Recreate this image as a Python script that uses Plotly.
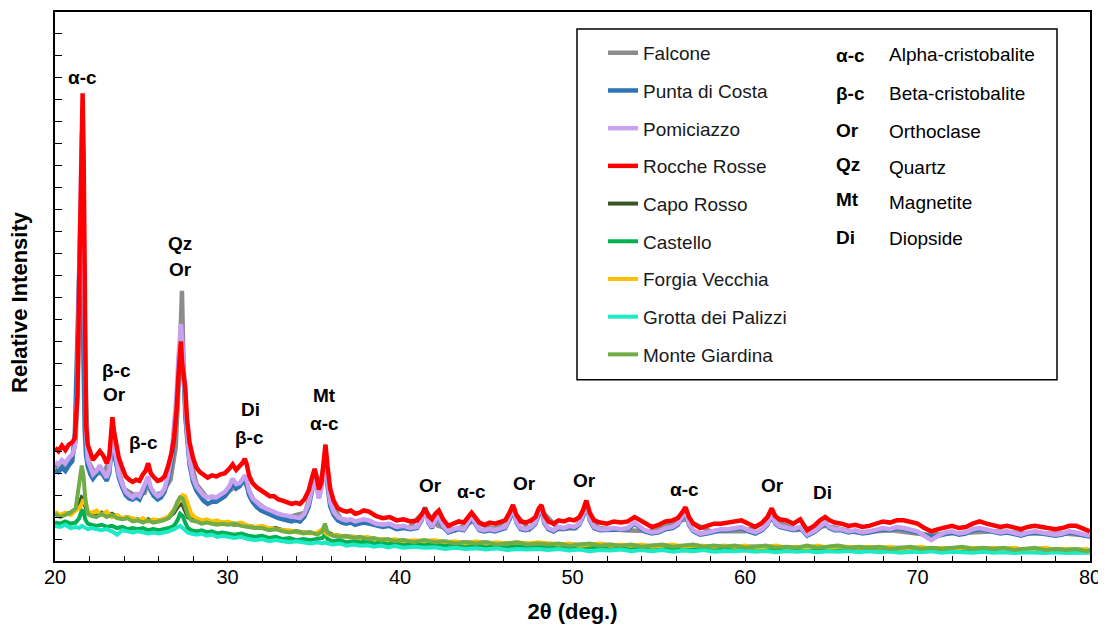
import plotly.graph_objects as go

# ---------------- data ----------------
# 2theta grid shared by the four upper patterns
tt_main = [
    20.0, 20.2, 20.4, 20.6, 20.8, 21.0, 21.15, 21.3, 21.4, 21.48,
    21.55, 21.6, 21.66, 21.72, 21.8, 21.9, 22.05, 22.2, 22.4, 22.6,
    22.8, 23.0, 23.15, 23.25, 23.33, 23.42, 23.55, 23.7, 23.9, 24.1,
    24.3, 24.5, 24.7, 24.9, 25.1, 25.25, 25.4, 25.55, 25.75, 25.95,
    26.15, 26.35, 26.55, 26.75, 26.9, 27.05, 27.15, 27.23, 27.3, 27.37,
    27.45, 27.55, 27.65, 27.8, 28.0, 28.2, 28.4, 28.6, 28.85, 29.1,
    29.35, 29.6, 29.85, 30.1, 30.3, 30.5, 30.7, 30.85, 31.0, 31.1,
    31.25, 31.45, 31.7, 31.95, 32.2, 32.45, 32.7, 32.95, 33.2, 33.45,
    33.7, 33.95, 34.2, 34.45, 34.7, 34.9, 35.05, 35.15, 35.3, 35.45,
    35.58, 35.68, 35.8, 35.95, 36.15, 36.4, 36.65, 36.9, 37.15, 37.4,
    37.65, 37.9, 38.2, 38.6, 39.0, 39.4, 39.8, 40.2, 40.6, 41.0,
    41.25, 41.45, 41.65, 41.85, 42.05, 42.25, 42.5, 42.8, 43.1, 43.4,
    43.7, 43.95, 44.15, 44.35, 44.6, 44.9, 45.2, 45.5, 45.8, 46.1,
    46.35, 46.55, 46.75, 47.0, 47.3, 47.6, 47.85, 48.05, 48.2, 48.35,
    48.6, 48.9, 49.2, 49.5, 49.8, 50.1, 50.4, 50.6, 50.8, 51.0,
    51.25, 51.6, 52.0, 52.4, 52.8, 53.2, 53.6, 53.9, 54.2, 54.6,
    55.0, 55.4, 55.8, 56.1, 56.35, 56.55, 56.75, 57.0, 57.4, 57.8,
    58.2, 58.6, 59.0, 59.4, 59.8, 60.2, 60.6, 61.0, 61.3, 61.55,
    61.75, 62.0, 62.4, 62.8, 63.2, 63.6, 64.0, 64.35, 64.65, 64.9,
    65.2, 65.6, 66.0, 66.4, 66.8, 67.2, 67.6, 68.0, 68.4, 68.8,
    69.2, 69.6, 70.0, 70.4, 70.8, 71.2, 71.6, 72.0, 72.4, 72.8,
    73.2, 73.6, 74.0, 74.4, 74.8, 75.2, 75.6, 76.0, 76.4, 76.8,
    77.2, 77.6, 78.0, 78.4, 78.8, 79.2, 79.6, 80.0,
]

rocche_rosse = [
    5.15, 5.0, 5.25, 5.05, 5.3, 5.4, 5.6, 7.5, 12.5, 17.5,
    21.2, 21.3, 18.5, 12.5, 6.2, 5.3, 4.85, 4.6, 4.8, 5.0,
    4.8, 4.45, 4.8, 5.7, 6.55, 5.9, 5.2, 4.7, 4.25, 3.85,
    3.7, 3.6, 3.7, 3.65, 3.95, 4.1, 4.45, 4.0, 3.8, 3.65,
    3.7, 3.85, 4.3, 4.9, 5.6, 6.9, 8.4, 9.7, 10.0, 9.0,
    8.4, 7.9, 6.5, 5.4, 4.7, 4.25, 4.05, 3.95, 3.8, 3.9,
    3.85, 3.95, 4.0, 4.2, 4.4, 4.15, 4.3, 4.45, 4.65, 4.45,
    3.9, 3.55, 3.35, 3.2, 3.1, 2.95, 2.95, 2.8, 2.75, 2.7,
    2.6, 2.65, 2.6, 2.8, 3.2, 3.8, 4.2, 3.9, 3.25, 3.6,
    4.6, 5.3, 4.3, 3.3, 2.75, 2.4, 2.3, 2.25, 2.3, 2.15,
    2.2, 2.3, 2.25, 2.05, 1.95, 2.0, 1.85, 1.9, 1.8, 1.85,
    2.1, 2.4, 2.05, 1.9, 2.15, 2.3, 1.9, 1.6, 1.7, 1.8,
    1.75, 2.0, 2.2, 2.0, 1.75, 1.65, 1.75, 1.7, 1.75, 1.85,
    2.2, 2.55, 2.1, 1.8, 1.75, 1.85, 2.0, 2.4, 2.55, 2.1,
    1.8, 1.7, 1.85, 1.8, 1.9, 1.85, 2.0, 2.3, 2.75, 2.2,
    1.85, 1.75, 1.7, 1.8, 1.75, 1.8, 2.0, 1.85, 1.7, 1.55,
    1.65, 1.8, 1.85, 1.95, 2.2, 2.45, 2.0, 1.7, 1.5, 1.6,
    1.7, 1.7, 1.75, 1.8, 1.85, 1.7, 1.55, 1.75, 2.0, 2.4,
    2.05, 1.9, 1.85, 1.7, 1.9, 1.4, 1.6, 1.85, 2.0, 1.85,
    1.75, 1.7, 1.6, 1.65, 1.55, 1.6, 1.7, 1.8, 1.75, 1.85,
    1.85, 1.8, 1.7, 1.5, 1.35, 1.45, 1.55, 1.6, 1.5, 1.55,
    1.7, 1.8, 1.7, 1.6, 1.55, 1.6, 1.5, 1.45, 1.55, 1.6,
    1.55, 1.5, 1.45, 1.5, 1.6, 1.6, 1.45, 1.35,
]

pomiciazzo = [
    4.5, 4.4, 4.6, 4.45, 4.7, 4.85, 5.2, 7.8, 13.0, 17.0,
    19.5, 19.0, 16.0, 11.0, 6.0, 4.6, 4.2, 3.95, 4.1, 4.35,
    4.05, 3.8, 4.2, 5.2, 6.0, 5.3, 4.5, 3.95, 3.5, 3.15,
    3.0, 2.9, 3.05, 2.95, 3.3, 3.55, 3.85, 3.35, 3.1, 2.95,
    3.05, 3.3, 3.9, 4.8, 6.0, 7.6, 9.2, 10.4, 10.8, 10.0,
    8.6, 7.6, 6.0, 4.6, 3.8, 3.4, 3.2, 3.0, 2.9, 2.95,
    2.9, 3.05, 3.15, 3.4, 3.75, 3.5, 3.55, 3.7, 3.9, 3.75,
    3.2, 2.85, 2.65, 2.5, 2.4, 2.3, 2.25, 2.15, 2.1, 2.05,
    2.0, 2.0, 1.95, 2.15, 2.6, 3.3, 3.7, 3.4, 2.85, 3.3,
    4.2, 4.6, 3.6, 2.7, 2.25, 2.0, 1.9, 1.85, 1.9, 1.8,
    1.85, 1.9, 1.85, 1.7, 1.65, 1.7, 1.55, 1.6, 1.5, 1.55,
    1.9, 2.35, 1.8, 1.55, 1.85, 2.05, 1.6, 1.35, 1.45, 1.5,
    1.45, 1.8, 2.05, 1.75, 1.45, 1.4, 1.45, 1.4, 1.45, 1.55,
    2.0, 2.45, 1.8, 1.5, 1.45, 1.55, 1.75, 2.3, 2.5, 1.8,
    1.5, 1.4, 1.55, 1.5, 1.6, 1.55, 1.7, 2.1, 2.65, 1.9,
    1.55, 1.45, 1.45, 1.5, 1.45, 1.5, 1.75, 1.55, 1.4, 1.3,
    1.35, 1.5, 1.55, 1.7, 2.0, 2.35, 1.7, 1.4, 1.25, 1.3,
    1.4, 1.45, 1.45, 1.5, 1.55, 1.4, 1.3, 1.45, 1.7, 2.15,
    1.75, 1.6, 1.55, 1.45, 1.55, 1.2, 1.35, 1.55, 1.75, 1.55,
    1.45, 1.45, 1.35, 1.4, 1.3, 1.35, 1.45, 1.5, 1.45, 1.55,
    1.5, 1.45, 1.35, 1.15, 0.95, 1.15, 1.3, 1.35, 1.25, 1.3,
    1.45, 1.5, 1.45, 1.35, 1.3, 1.35, 1.25, 1.2, 1.3, 1.35,
    1.3, 1.25, 1.2, 1.25, 1.35, 1.3, 1.2, 1.15,
]

punta_di_costa = [
    4.15, 4.05, 4.25, 4.1, 4.35, 4.55, 5.8, 10.5, 14.5, 15.5,
    14.0, 11.0, 8.5, 6.0, 4.8, 4.3, 3.95, 3.75, 3.95, 4.2,
    3.9, 3.65, 4.0, 4.9, 5.6, 5.0, 4.3, 3.8, 3.35, 3.0,
    2.85, 2.8, 2.9, 2.8, 3.15, 3.4, 3.7, 3.2, 2.95, 2.8,
    2.9, 3.15, 3.7, 4.5, 5.6, 7.2, 8.8, 10.0, 10.4, 9.5,
    8.2, 7.2, 5.7, 4.4, 3.6, 3.2, 3.0, 2.75, 2.6, 2.7,
    2.7, 2.85, 2.95, 3.2, 3.6, 3.3, 3.4, 3.6, 3.85, 3.5,
    3.0, 2.7, 2.45, 2.3, 2.2, 2.1, 2.05, 1.95, 1.9, 1.85,
    1.8, 1.85, 1.8, 2.0, 2.45, 3.2, 3.9, 3.6, 2.9, 3.5,
    4.4, 4.7, 3.4, 2.5, 2.1, 1.85, 1.75, 1.7, 1.75, 1.65,
    1.7, 1.75, 1.7, 1.6, 1.55, 1.6, 1.45, 1.5, 1.45, 1.5,
    1.85, 2.45, 1.75, 1.5, 1.8, 1.95, 1.55, 1.3, 1.4, 1.45,
    1.4, 1.75, 1.95, 1.7, 1.4, 1.35, 1.4, 1.35, 1.4, 1.5,
    1.9, 2.35, 1.75, 1.45, 1.4, 1.5, 1.7, 2.2, 2.45, 1.75,
    1.45, 1.35, 1.5, 1.45, 1.55, 1.5, 1.65, 2.0, 2.6, 1.85,
    1.5, 1.4, 1.4, 1.45, 1.4, 1.45, 1.7, 1.5, 1.35, 1.25,
    1.3, 1.45, 1.5, 1.65, 1.95, 2.3, 1.65, 1.35, 1.2, 1.25,
    1.35, 1.4, 1.4, 1.45, 1.5, 1.35, 1.25, 1.4, 1.65, 2.1,
    1.7, 1.55, 1.5, 1.4, 1.5, 1.15, 1.3, 1.5, 1.7, 1.5,
    1.4, 1.4, 1.3, 1.35, 1.25, 1.3, 1.4, 1.45, 1.4, 1.5,
    1.45, 1.4, 1.3, 1.2, 1.1, 1.15, 1.25, 1.3, 1.2, 1.25,
    1.4, 1.45, 1.4, 1.3, 1.25, 1.3, 1.2, 1.15, 1.25, 1.3,
    1.25, 1.2, 1.15, 1.2, 1.3, 1.25, 1.15, 1.1,
]

# Falcone is mostly hidden under the other upper patterns: coarser grid
tt_falcone = [
    20.0, 20.5, 21.0, 21.2, 21.35, 21.45, 21.55, 21.65, 21.75, 21.9,
    22.3, 22.8, 23.2, 23.33, 23.5, 24.0, 24.6, 25.2, 25.4, 25.7,
    26.2, 26.7, 27.0, 27.2, 27.3, 27.36, 27.42, 27.55, 27.8, 28.2,
    28.8, 29.5, 30.3, 31.0, 31.5, 32.5, 33.5, 34.5, 35.05, 35.3,
    35.55, 35.7, 36.0, 36.6, 37.5, 38.5, 39.5, 40.5, 41.45, 42.2,
    43.2, 44.2, 45.5, 46.6, 47.5, 48.2, 49.2, 50.2, 50.8, 51.5,
    53.0, 54.5, 56.5, 58.0, 60.0, 61.6, 63.0, 64.7, 66.5, 68.5,
    70.5, 72.5, 74.5, 76.5, 78.5, 80.0,
]
falcone = [
    4.3, 4.35, 4.7, 5.5, 9.0, 14.0, 17.0, 15.5, 9.0, 4.6,
    4.0, 4.0, 4.6, 5.8, 4.6, 3.3, 3.0, 3.1, 3.6, 3.0,
    3.1, 3.7, 5.2, 8.5, 11.5, 12.3, 10.0, 6.5, 4.8, 3.5,
    2.9, 2.9, 3.3, 3.6, 2.8, 2.2, 2.0, 2.2, 3.7, 3.2,
    4.2, 4.4, 2.6, 1.9, 1.8, 1.7, 1.55, 1.5, 2.3, 1.6,
    1.4, 1.8, 1.45, 2.2, 1.45, 2.3, 1.45, 1.5, 2.4, 1.5,
    1.4, 1.35, 1.9, 1.35, 1.35, 1.9, 1.4, 1.6, 1.3, 1.4,
    1.2, 1.3, 1.35, 1.25, 1.25, 1.15,
]

# 2theta grid shared by the five lower patterns
tt_low = [
    20.0, 20.3, 20.6, 20.9, 21.2, 21.4, 21.55, 21.65, 21.75, 21.9,
    22.1, 22.4, 22.7, 23.0, 23.3, 23.6, 23.9, 24.2, 24.5, 24.8,
    25.1, 25.4, 25.7, 26.0, 26.3, 26.6, 26.9, 27.1, 27.25, 27.4,
    27.55, 27.7, 27.9, 28.2, 28.5, 28.8, 29.1, 29.4, 29.7, 30.0,
    30.4, 30.8, 31.2, 31.6, 32.0, 32.4, 32.8, 33.2, 33.6, 34.0,
    34.4, 34.8, 35.2, 35.5, 35.65, 35.8, 36.1, 36.5, 36.9, 37.3,
    37.7, 38.1, 38.5, 38.9, 39.3, 39.7, 40.2, 40.8, 41.4, 42.0,
    42.6, 43.2, 43.8, 44.4, 45.0, 45.6, 46.2, 46.8, 47.4, 48.0,
    48.6, 49.2, 49.8, 50.4, 51.0, 51.6, 52.2, 52.8, 53.4, 54.0,
    54.6, 55.2, 55.8, 56.4, 57.0, 57.6, 58.2, 58.8, 59.4, 60.0,
    60.6, 61.2, 61.8, 62.4, 63.0, 63.6, 64.2, 64.8, 65.4, 66.0,
    66.6, 67.2, 67.8, 68.4, 69.0, 69.6, 70.2, 70.8, 71.4, 72.0,
    72.6, 73.2, 73.8, 74.4, 75.0, 75.6, 76.2, 76.8, 77.4, 78.0,
    78.6, 79.2, 79.8, 80.0,
]

capo_rosso = [
    2.2, 2.05, 2.15, 2.2, 2.35, 2.6, 2.9, 2.85, 2.5, 2.2,
    2.1, 2.05, 2.2, 2.05, 2.15, 2.0, 1.95, 2.0, 1.85, 1.9,
    1.8, 1.9, 1.8, 1.85, 1.9, 2.0, 2.2, 2.45, 2.6, 2.55,
    2.3, 2.0, 1.9, 1.85, 1.75, 1.8, 1.75, 1.7, 1.75, 1.7,
    1.65, 1.7, 1.6, 1.55, 1.55, 1.45, 1.5, 1.4, 1.35, 1.35,
    1.3, 1.3, 1.25, 1.35, 1.4, 1.3, 1.2, 1.15, 1.1, 1.1,
    1.05, 1.05, 1.0, 1.0, 0.95, 0.95, 0.92, 0.9, 0.92, 0.88,
    0.88, 0.85, 0.85, 0.82, 0.84, 0.8, 0.82, 0.8, 0.78, 0.82,
    0.78, 0.76, 0.78, 0.74, 0.76, 0.74, 0.72, 0.74, 0.72, 0.7,
    0.7, 0.72, 0.68, 0.7, 0.7, 0.68, 0.68, 0.66, 0.68, 0.65,
    0.64, 0.66, 0.64, 0.62, 0.64, 0.64, 0.62, 0.63, 0.66, 0.62,
    0.62, 0.6, 0.62, 0.6, 0.58, 0.62, 0.6, 0.58, 0.58, 0.58,
    0.6, 0.58, 0.57, 0.58, 0.56, 0.56, 0.54, 0.56, 0.55, 0.54,
    0.53, 0.52, 0.5, 0.5,
]

castello = [
    1.75, 1.7, 1.8, 1.7, 1.75, 1.95, 2.3, 2.25, 1.9, 1.7,
    1.65, 1.6, 1.65, 1.55, 1.6, 1.5, 1.55, 1.45, 1.5, 1.45,
    1.5, 1.4, 1.45, 1.4, 1.45, 1.5, 1.6, 1.85, 2.15, 2.05,
    1.75, 1.5, 1.4, 1.35, 1.4, 1.3, 1.35, 1.25, 1.3, 1.25,
    1.2, 1.25, 1.15, 1.1, 1.15, 1.05, 1.1, 1.0, 1.05, 0.95,
    1.0, 0.95, 1.0, 1.05, 1.2, 1.0, 0.9, 0.95, 0.85, 0.9,
    0.85, 0.88, 0.8, 0.85, 0.78, 0.82, 0.75, 0.8, 0.74, 0.78,
    0.72, 0.76, 0.7, 0.74, 0.68, 0.72, 0.66, 0.7, 0.67, 0.7,
    0.65, 0.68, 0.63, 0.67, 0.6, 0.65, 0.62, 0.66, 0.6, 0.64,
    0.58, 0.62, 0.57, 0.62, 0.58, 0.6, 0.56, 0.6, 0.57, 0.6,
    0.55, 0.58, 0.54, 0.58, 0.55, 0.58, 0.53, 0.57, 0.55, 0.57,
    0.52, 0.56, 0.53, 0.55, 0.5, 0.55, 0.52, 0.55, 0.5, 0.54,
    0.52, 0.5, 0.54, 0.5, 0.52, 0.48, 0.52, 0.5, 0.48, 0.52,
    0.48, 0.5, 0.47, 0.49,
]

forgia_vecchia = [
    2.25, 2.1, 2.2, 2.1, 2.3, 2.4, 2.6, 2.8, 2.7, 2.3,
    2.15, 2.3, 2.1, 2.25, 2.0, 2.1, 1.95, 2.0, 1.95, 1.85,
    1.95, 1.8, 1.9, 1.85, 1.9, 2.05, 2.35, 2.6, 2.8, 3.0,
    2.95, 2.6, 2.15, 1.95, 1.85, 1.9, 1.8, 1.85, 1.75, 1.8,
    1.7, 1.75, 1.6, 1.55, 1.6, 1.5, 1.45, 1.4, 1.4, 1.3,
    1.3, 1.25, 1.3, 1.45, 1.3, 1.2, 1.2, 1.15, 1.1, 1.1,
    1.05, 1.1, 1.0, 1.0, 0.95, 1.0, 0.9, 0.95, 0.9, 0.95,
    0.85, 0.9, 0.8, 0.9, 0.8, 0.85, 0.8, 0.85, 0.8, 0.85,
    0.8, 0.75, 0.8, 0.7, 0.75, 0.8, 0.7, 0.75, 0.7, 0.75,
    0.65, 0.7, 0.75, 0.65, 0.7, 0.7, 0.65, 0.7, 0.65, 0.7,
    0.6, 0.65, 0.7, 0.6, 0.65, 0.6, 0.7, 0.6, 0.65, 0.65,
    0.6, 0.65, 0.6, 0.65, 0.55, 0.6, 0.65, 0.55, 0.6, 0.55,
    0.6, 0.6, 0.55, 0.6, 0.55, 0.6, 0.5, 0.55, 0.6, 0.5,
    0.55, 0.5, 0.55, 0.5,
]

grotta_dei_palizzi = [
    1.6, 1.55, 1.65, 1.5, 1.55, 1.5, 1.6, 1.55, 1.5, 1.45,
    1.5, 1.45, 1.4, 1.45, 1.35, 1.2, 1.4, 1.35, 1.3, 1.35,
    1.3, 1.25, 1.3, 1.25, 1.3, 1.35, 1.45, 1.55, 1.6, 1.5,
    1.4, 1.3, 1.25, 1.2, 1.25, 1.15, 1.2, 1.1, 1.15, 1.1,
    1.05, 1.1, 1.0, 0.95, 1.0, 0.9, 0.95, 0.9, 0.85, 0.9,
    0.85, 0.8, 0.85, 0.8, 0.85, 0.8, 0.75, 0.8, 0.7, 0.75,
    0.7, 0.72, 0.65, 0.7, 0.62, 0.68, 0.6, 0.65, 0.6, 0.62,
    0.55, 0.6, 0.55, 0.58, 0.52, 0.58, 0.5, 0.55, 0.52, 0.55,
    0.5, 0.55, 0.48, 0.52, 0.45, 0.5, 0.48, 0.52, 0.45, 0.5,
    0.45, 0.5, 0.42, 0.48, 0.45, 0.5, 0.42, 0.46, 0.44, 0.48,
    0.42, 0.46, 0.4, 0.45, 0.42, 0.46, 0.4, 0.44, 0.42, 0.45,
    0.4, 0.44, 0.4, 0.43, 0.38, 0.42, 0.4, 0.44, 0.38, 0.42,
    0.4, 0.38, 0.42, 0.38, 0.4, 0.36, 0.4, 0.38, 0.36, 0.4,
    0.36, 0.38, 0.35, 0.37,
]

monte_giardina = [
    2.15, 2.0, 2.1, 2.2, 2.4, 3.6, 4.35, 3.9, 2.9, 2.15,
    2.05, 2.0, 2.15, 2.0, 2.1, 1.95, 1.9, 1.95, 1.8, 1.85,
    1.75, 1.85, 1.75, 1.8, 1.85, 1.95, 2.3, 2.7, 2.9, 2.85,
    2.5, 2.1, 1.85, 1.8, 1.7, 1.75, 1.7, 1.65, 1.7, 1.65,
    1.7, 1.6, 1.55, 1.5, 1.5, 1.4, 1.45, 1.35, 1.3, 1.35,
    1.25, 1.3, 1.2, 1.35, 1.7, 1.3, 1.15, 1.1, 1.15, 1.05,
    1.1, 1.0, 1.05, 0.95, 1.0, 0.9, 0.95, 0.85, 0.95, 0.85,
    0.9, 0.8, 0.85, 0.8, 0.85, 0.75, 0.8, 0.85, 0.75, 0.8,
    0.75, 0.8, 0.7, 0.75, 0.8, 0.7, 0.75, 0.7, 0.75, 0.65,
    0.7, 0.75, 0.65, 0.7, 0.75, 0.65, 0.7, 0.65, 0.7, 0.6,
    0.65, 0.7, 0.6, 0.65, 0.6, 0.7, 0.6, 0.65, 0.7, 0.6,
    0.65, 0.6, 0.65, 0.55, 0.6, 0.65, 0.55, 0.6, 0.55, 0.6,
    0.65, 0.55, 0.6, 0.55, 0.6, 0.5, 0.55, 0.6, 0.5, 0.55,
    0.5, 0.55, 0.45, 0.5,
]

series_names = ["Falcone", "Punta di Costa", "Pomiciazzo", "Rocche Rosse",
                "Capo Rosso", "Castello", "Forgia Vecchia",
                "Grotta dei Palizzi", "Monte Giardina"]
series_x = [tt_falcone, tt_main, tt_main, tt_main,
            tt_low, tt_low, tt_low, tt_low, tt_low]
series_y = [falcone, punta_di_costa, pomiciazzo, rocche_rosse,
            capo_rosso, castello, forgia_vecchia, grotta_dei_palizzi,
            monte_giardina]
series_colors = ["#8c8c8c", "#2e75b6", "#c8a2f0", "#ff0000",
                 "#375623", "#00b050", "#ffc000", "#1de9c4", "#70ad47"]
series_widths = [4.5, 4.5, 4.5, 4.5, 4, 4, 4, 4, 4]

# phase labels on the peaks
peak_text = ["α-c", "β-c", "Or", "β-c", "Qz", "Or", "Di", "β-c", "Mt", "α-c",
             "Or", "α-c", "Or", "Or", "α-c", "Or", "Di"]
peak_x = [21.61, 23.55, 23.42, 25.13, 27.25, 27.25, 31.34, 31.25, 35.65, 35.65,
          41.74, 44.12, 47.19, 50.72, 56.52, 61.61, 64.52]
peak_y = [22.0, 8.67, 7.58, 5.4, 14.47, 13.29, 6.9, 5.63, 7.53, 6.26,
          3.45, 3.18, 3.54, 3.68, 3.27, 3.45, 3.13]

# phase key (right column of the legend box)
phase_abbr = ["α-c", "β-c", "Or", "Qz", "Mt", "Di"]
phase_name = ["Alpha-cristobalite", "Beta-cristobalite", "Orthoclase",
              "Quartz", "Magnetite", "Diopside"]

for xs, ys in zip(series_x, series_y):
    assert len(xs) == len(ys), (len(xs), len(ys))

# ---------------- figure ----------------
FONT = "Liberation Sans, Arial, sans-serif"
# the page places the figure 8px from the top-left corner of the window
W, H = 1098, 625
L, R, T, B = 47, 16, 2, 72
PLOT_LEFT, PLOT_TOP, PLOT_W, PLOT_H = 55, 10, 1035, 551   # page pixels of the plot area


def px2paper(px, py):
    return (px - PLOT_LEFT) / PLOT_W, (PLOT_TOP + PLOT_H - py) / PLOT_H


fig = go.Figure()
for i, (name, xs, ys, col, lw) in enumerate(zip(series_names, series_x, series_y,
                                                 series_colors, series_widths)):
    fig.add_trace(go.Scatter(
        x=xs, y=ys, mode="lines", name=name,
        line=dict(color=col, width=lw),
        legendgroup=f"g{i}",
    ))

annotations = []
for t, x, y in zip(peak_text, peak_x, peak_y):
    annotations.append(dict(x=x, y=y, xref="x", yref="y", text=f"<b>{t}</b>",
                            showarrow=False, font=dict(size=19, family=FONT, color="black"),
                            xanchor="center", yanchor="middle"))

abbr_y = [54, 92, 129, 163, 198, 236]
name_y = [53, 92, 130, 166, 201, 237]
for a, n, ya, yn in zip(phase_abbr, phase_name, abbr_y, name_y):
    xa, yA = px2paper(834, ya)
    xn, yN = px2paper(887, yn)
    annotations.append(dict(x=xa, y=yA, xref="paper", yref="paper", text=f"<b>{a}</b>",
                            showarrow=False, xanchor="left", yanchor="middle",
                            font=dict(size=19, family=FONT, color="black")))
    annotations.append(dict(x=xn, y=yN, xref="paper", yref="paper", text=n,
                            showarrow=False, xanchor="left", yanchor="middle",
                            font=dict(size=19, family=FONT, color="black")))

# y-axis title
yt_x, yt_y = px2paper(20, 301)
annotations.append(dict(x=yt_x, y=yt_y, xref="paper", yref="paper",
                        text="<b>Relative Intensity</b>", textangle=-90, showarrow=False,
                        xanchor="center", yanchor="middle",
                        font=dict(size=22, family=FONT, color="black")))

bx0, by1 = px2paper(577, 27)
bx1, by0 = px2paper(1057, 379)
shapes = [dict(type="rect", xref="paper", yref="paper", x0=bx0, x1=bx1, y0=by0, y1=by1,
               line=dict(color="black", width=1.5), fillcolor="rgba(0,0,0,0)", layer="above")]

lx, ly = px2paper(603, 32)

fig.update_layout(
    width=W, height=H,
    margin=dict(l=L, r=R, t=T, b=B),
    paper_bgcolor="white", plot_bgcolor="white",
    font=dict(family=FONT, color="black"),
    showlegend=True,
    legend=dict(x=lx, y=ly, xanchor="left", yanchor="top",
                bgcolor="rgba(0,0,0,0)", borderwidth=0,
                font=dict(size=19, family=FONT, color="#1a1a1a"),
                tracegroupgap=10, itemwidth=30),
    annotations=annotations,
    shapes=shapes,
    xaxis=dict(range=[20, 80], tickmode="array", tickvals=[20, 30, 40, 50, 60, 70, 80],
               ticks="inside", ticklen=5, tickwidth=1, tickcolor="black",
               minor=dict(dtick=2, ticks="inside", ticklen=5, tickwidth=1, tickcolor="black"),
               showline=True, linecolor="black", linewidth=1.5, mirror=True,
               showgrid=False, zeroline=False, ticklabelstandoff=-3,
               tickfont=dict(size=20, family=FONT, color="black"),
               title=dict(text="<b>2θ (deg.)</b>", font=dict(size=22, family=FONT, color="black"),
                          standoff=17)),
    yaxis=dict(range=[0, 25], dtick=1, ticks="inside", ticklen=7, tickwidth=1,
               tickcolor="black", showticklabels=False,
               showline=True, linecolor="black", linewidth=1.5, mirror=True,
               showgrid=False, zeroline=False),
)

fig.write_html("out.html")
